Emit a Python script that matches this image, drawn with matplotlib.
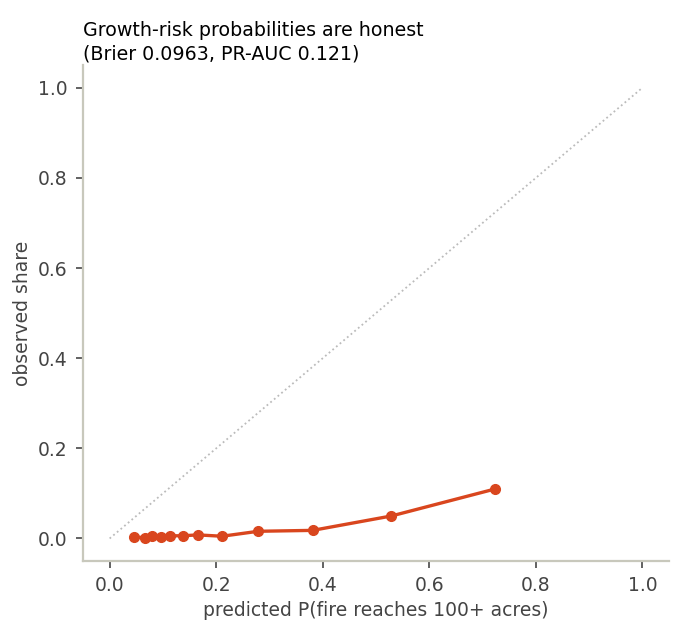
import matplotlib
matplotlib.use("Agg")
import matplotlib.pyplot as plt

plt.rcParams["font.family"] = ["DejaVu Sans"]

# calibration bins: mean predicted prob vs observed share
predicted = [0.045, 0.067, 0.079, 0.096, 0.113, 0.138, 0.165, 0.211, 0.279, 0.381, 0.529, 0.724]
observed = [0.003, 0.002, 0.006, 0.003, 0.006, 0.006, 0.008, 0.005, 0.016, 0.018, 0.050, 0.110]
diag = [0, 1]

line_col = "#d9461e"
spine_col = "#c8c8bc"
text_col = "#444444"

fig = plt.figure(figsize=(6.82, 6.33), dpi=100)
ax = fig.add_axes([0.1217, 0.1137, 0.8593, 0.7833])

ax.plot(diag, diag, ls=":", color="#bbbbbb", lw=1.3)
ax.plot(predicted, observed, marker="o", color=line_col, lw=2.4, ms=7)

ax.set_xlim(-0.05, 1.05)
ax.set_ylim(-0.05, 1.05)
ax.set_xticks([0, 0.2, 0.4, 0.6, 0.8, 1.0])
ax.set_yticks([0, 0.2, 0.4, 0.6, 0.8, 1.0])

for s in ["top", "right"]:
    ax.spines[s].set_visible(False)
for s in ["left", "bottom"]:
    ax.spines[s].set_color(spine_col)
    ax.spines[s].set_linewidth(1.6)
ax.tick_params(colors="#555555", labelcolor=text_col, labelsize=13.5, length=5, width=1.3, pad=6)

ax.set_xlabel("predicted P(fire reaches 100+ acres)", color=text_col, fontsize=13.5, labelpad=4)
ax.set_ylabel("observed share", color=text_col, fontsize=13.5, labelpad=4.5)
ax.set_title("Growth-risk probabilities are honest\n(Brier 0.0963, PR-AUC 0.121)",
             loc="left", fontsize=13.7, color="black", pad=4, linespacing=1.3)

fig.savefig("out.png", dpi=100)
